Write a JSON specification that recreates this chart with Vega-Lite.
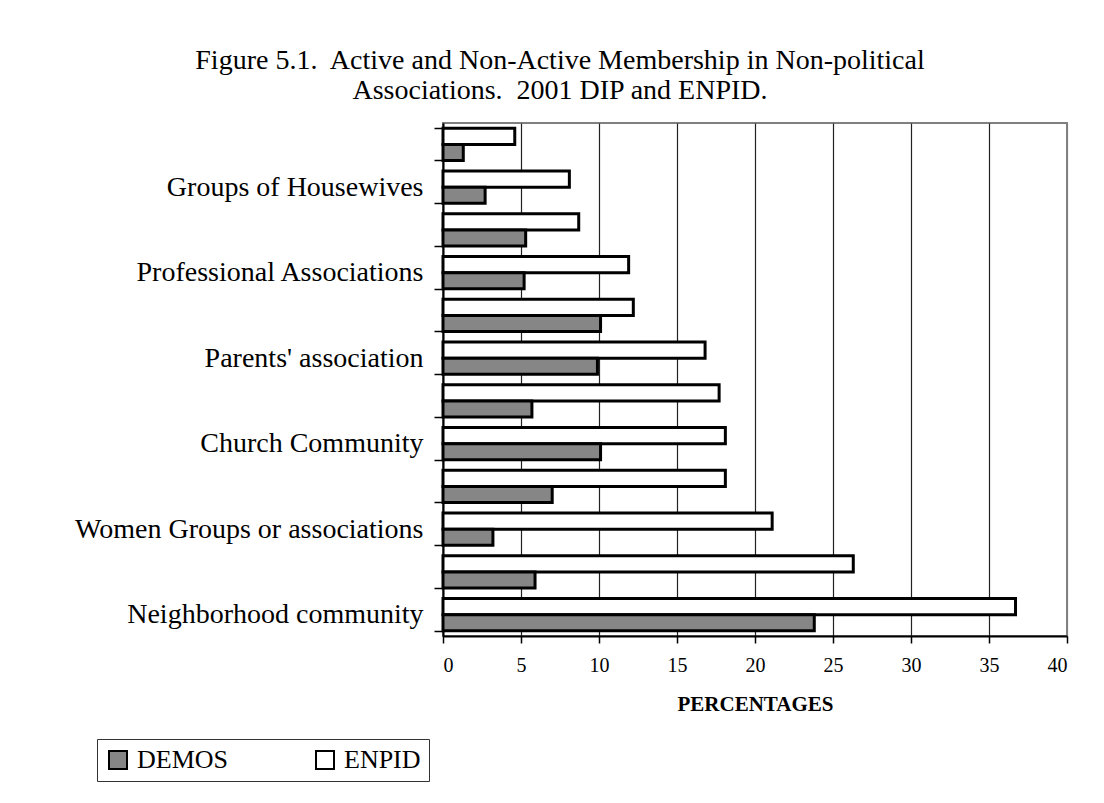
{
  "$schema": "https://vega.github.io/schema/vega-lite/v6.json",
  "autosize": "none",
  "width": 624,
  "height": 513,
  "padding": {"left": 443, "top": 123, "right": 37, "bottom": 167},
  "background": "white",
  "title": {
    "text": ["Figure 5.1.\u00a0 Active and Non-Active Membership in Non-political", "Associations.\u00a0 2001 DIP and ENPID."],
    "anchor": "middle",
    "dx": -195,
    "font": "Liberation Serif",
    "fontSize": 28,
    "fontWeight": "normal",
    "color": "black",
    "offset": 4
  },
  "data": {
    "values": [
      {"category": "(unlabeled 1)", "series": "ENPID", "value": 4.6},
      {"category": "(unlabeled 1)", "series": "DEMOS", "value": 1.3},
      {"category": "Groups of Housewives", "series": "ENPID", "value": 8.1},
      {"category": "Groups of Housewives", "series": "DEMOS", "value": 2.7},
      {"category": "(unlabeled 2)", "series": "ENPID", "value": 8.7},
      {"category": "(unlabeled 2)", "series": "DEMOS", "value": 5.3},
      {"category": "Professional Associations", "series": "ENPID", "value": 11.9},
      {"category": "Professional Associations", "series": "DEMOS", "value": 5.2},
      {"category": "(unlabeled 3)", "series": "ENPID", "value": 12.2},
      {"category": "(unlabeled 3)", "series": "DEMOS", "value": 10.1},
      {"category": "Parents' association", "series": "ENPID", "value": 16.8},
      {"category": "Parents' association", "series": "DEMOS", "value": 9.9},
      {"category": "(unlabeled 4)", "series": "ENPID", "value": 17.7},
      {"category": "(unlabeled 4)", "series": "DEMOS", "value": 5.7},
      {"category": "Church Community", "series": "ENPID", "value": 18.1},
      {"category": "Church Community", "series": "DEMOS", "value": 10.1},
      {"category": "(unlabeled 5)", "series": "ENPID", "value": 18.1},
      {"category": "(unlabeled 5)", "series": "DEMOS", "value": 7.0},
      {"category": "Women Groups or associations", "series": "ENPID", "value": 21.1},
      {"category": "Women Groups or associations", "series": "DEMOS", "value": 3.2},
      {"category": "(unlabeled 6)", "series": "ENPID", "value": 26.3},
      {"category": "(unlabeled 6)", "series": "DEMOS", "value": 5.9},
      {"category": "Neighborhood community", "series": "ENPID", "value": 36.7},
      {"category": "Neighborhood community", "series": "DEMOS", "value": 23.8}
    ]
  },
  "mark": {"type": "bar", "stroke": "black", "strokeWidth": 3},
  "encoding": {
    "y": {
      "field": "category",
      "type": "nominal",
      "sort": null,
      "scale": {"paddingInner": 0.25, "paddingOuter": 0.125},
      "axis": {
        "title": null,
        "labelExpr": "indexof('' + datum.label, '(unlabeled') === 0 ? '' : datum.label",
        "labelFont": "Liberation Serif",
        "labelFontSize": 28,
        "labelColor": "black",
        "labelLimit": 0,
        "labelPadding": 11,
        "tickBand": "extent",
        "tickSize": 9,
        "tickColor": "black",
        "tickWidth": 1.5,
        "domainColor": "black",
        "domainWidth": 2
      }
    },
    "yOffset": {
      "field": "series",
      "type": "nominal",
      "sort": ["ENPID", "DEMOS"]
    },
    "x": {
      "field": "value",
      "type": "quantitative",
      "scale": {"domain": [0, 40], "nice": false},
      "axis": {
        "title": "PERCENTAGES",
        "titleFont": "Liberation Serif",
        "titleFontSize": 21,
        "titleFontWeight": "bold",
        "titleColor": "black",
        "titlePadding": 18,
        "values": [0, 5, 10, 15, 20, 25, 30, 35, 40],
        "labelFont": "Liberation Serif",
        "labelFontSize": 20,
        "labelColor": "black",
        "labelPadding": 12,
        "tickSize": 7,
        "tickColor": "black",
        "tickWidth": 1.5,
        "domainColor": "black",
        "domainWidth": 2,
        "grid": true,
        "gridColor": {"condition": {"test": "datum.value == 40", "value": "#808080"}, "value": "#222222"},
        "gridWidth": 1.2
      }
    },
    "fill": {
      "field": "series",
      "type": "nominal",
      "scale": {"domain": ["DEMOS", "ENPID"], "range": ["#868686", "#ffffff"]},
      "legend": {
        "title": null,
        "orient": "none",
        "legendX": -346,
        "legendY": 616,
        "direction": "horizontal",
        "columns": 2,
        "gridAlign": "all",
        "symbolType": "square",
        "symbolSize": 324,
        "symbolStrokeColor": "black",
        "symbolStrokeWidth": 2,
        "labelFont": "Liberation Serif",
        "labelFontSize": 26,
        "labelColor": "black",
        "labelOffset": 6,
        "columnPadding": 83,
        "strokeColor": "#333333",
        "fillColor": "white",
        "padding": 8
      }
    }
  },
  "config": {
    "view": {"stroke": "#808080", "strokeWidth": 2},
    "font": "Liberation Serif"
  }
}
